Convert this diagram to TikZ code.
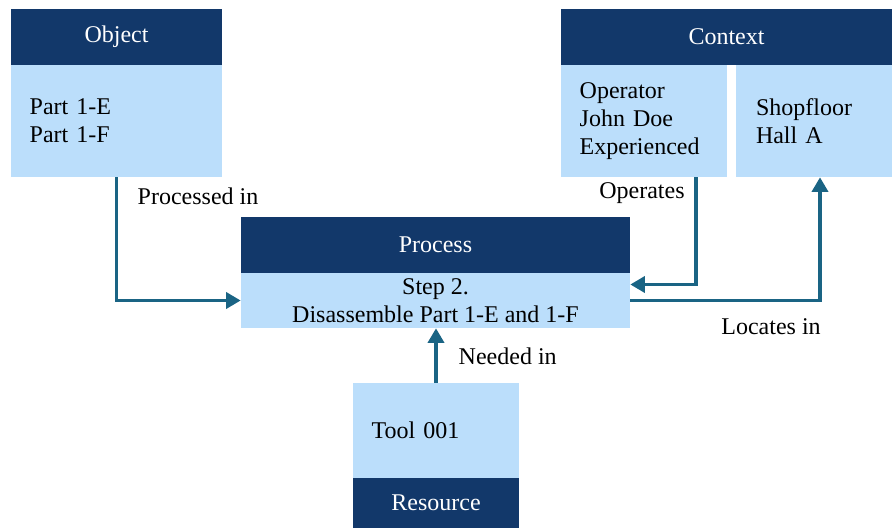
\documentclass[tikz,border=0pt]{standalone}
\usepackage{fontspec}
\setmainfont{Liberation Serif}
\usetikzlibrary{arrows.meta}
\definecolor{navy}{HTML}{12386A}
\definecolor{pale}{HTML}{BBDEFB}
\definecolor{link}{HTML}{1A6484}
\tikzset{
  head/.style={fill=navy, text=white, inner sep=0pt, minimum height=42pt},
  body/.style={fill=pale, text=black, inner sep=0pt, minimum height=84pt, align=center},
  bodyL/.style={body, align=left, inner xsep=14pt},
  lab/.style={text=black},
  conn/.style={draw=link, line width=2.8pt, -{Triangle[length=11pt,width=12pt]}}
}

\begin{document}
\begin{tikzpicture}[x=0.75pt,y=-0.75pt,font=\fontsize{18}{21}\selectfont]
\useasboundingbox (0,0) rectangle (892,528);
% object
\node[head, minimum width=158.25pt] (objHead) at (116.5,37) {Object};
\node[bodyL, text width=130.25pt] (objBody) at (116.5,121) {Part 1-E\\Part 1-F};
% context
\node[head, minimum width=248.25pt] (ctxHead) at (726.5,37) {Context};
\node[bodyL, text width=96.5pt] (opBody) at (644,121) {Operator\\John Doe\\Experienced};
\node[bodyL, text width=87pt, inner xsep=15pt] (shopBody) at (814,121) {Shopfloor\\Hall A};
% process
\node[head, minimum width=291.75pt] (procHead) at (435.5,245) {Process};
\node[body, minimum width=291.75pt, minimum height=41.25pt] (procBody) at (435.5,300.5) {Step 2.\\Disassemble Part 1-E and 1-F};
% resource
\node[bodyL, text width=96.5pt, minimum height=71.25pt] (resBody) at (436,430.5) {Tool 001};
\node[head, minimum width=124.5pt, minimum height=37.5pt] (resHead) at (436,503) {Resource};
% links
\draw[conn] (objBody) |- (procBody);
\draw[conn] ([xshift=39pt]opBody.south) |- ([yshift=12pt]procBody.east);
\draw[conn] (procBody.east) -| ([xshift=4.5pt]shopBody.south);
\draw[conn] (resBody.north) -- (resBody.north |- procBody.south);
\node[lab, anchor=west] (lblProc) at (133,196) {Processed in};
\node[lab] (lblOp) at (642,193) {Operates};
\node[lab] (lblLoc) at (771,327) {Locates in};
\node[lab, anchor=west] (lblNeed) at (454,356) {Needed in};
\end{tikzpicture}
\end{document}
